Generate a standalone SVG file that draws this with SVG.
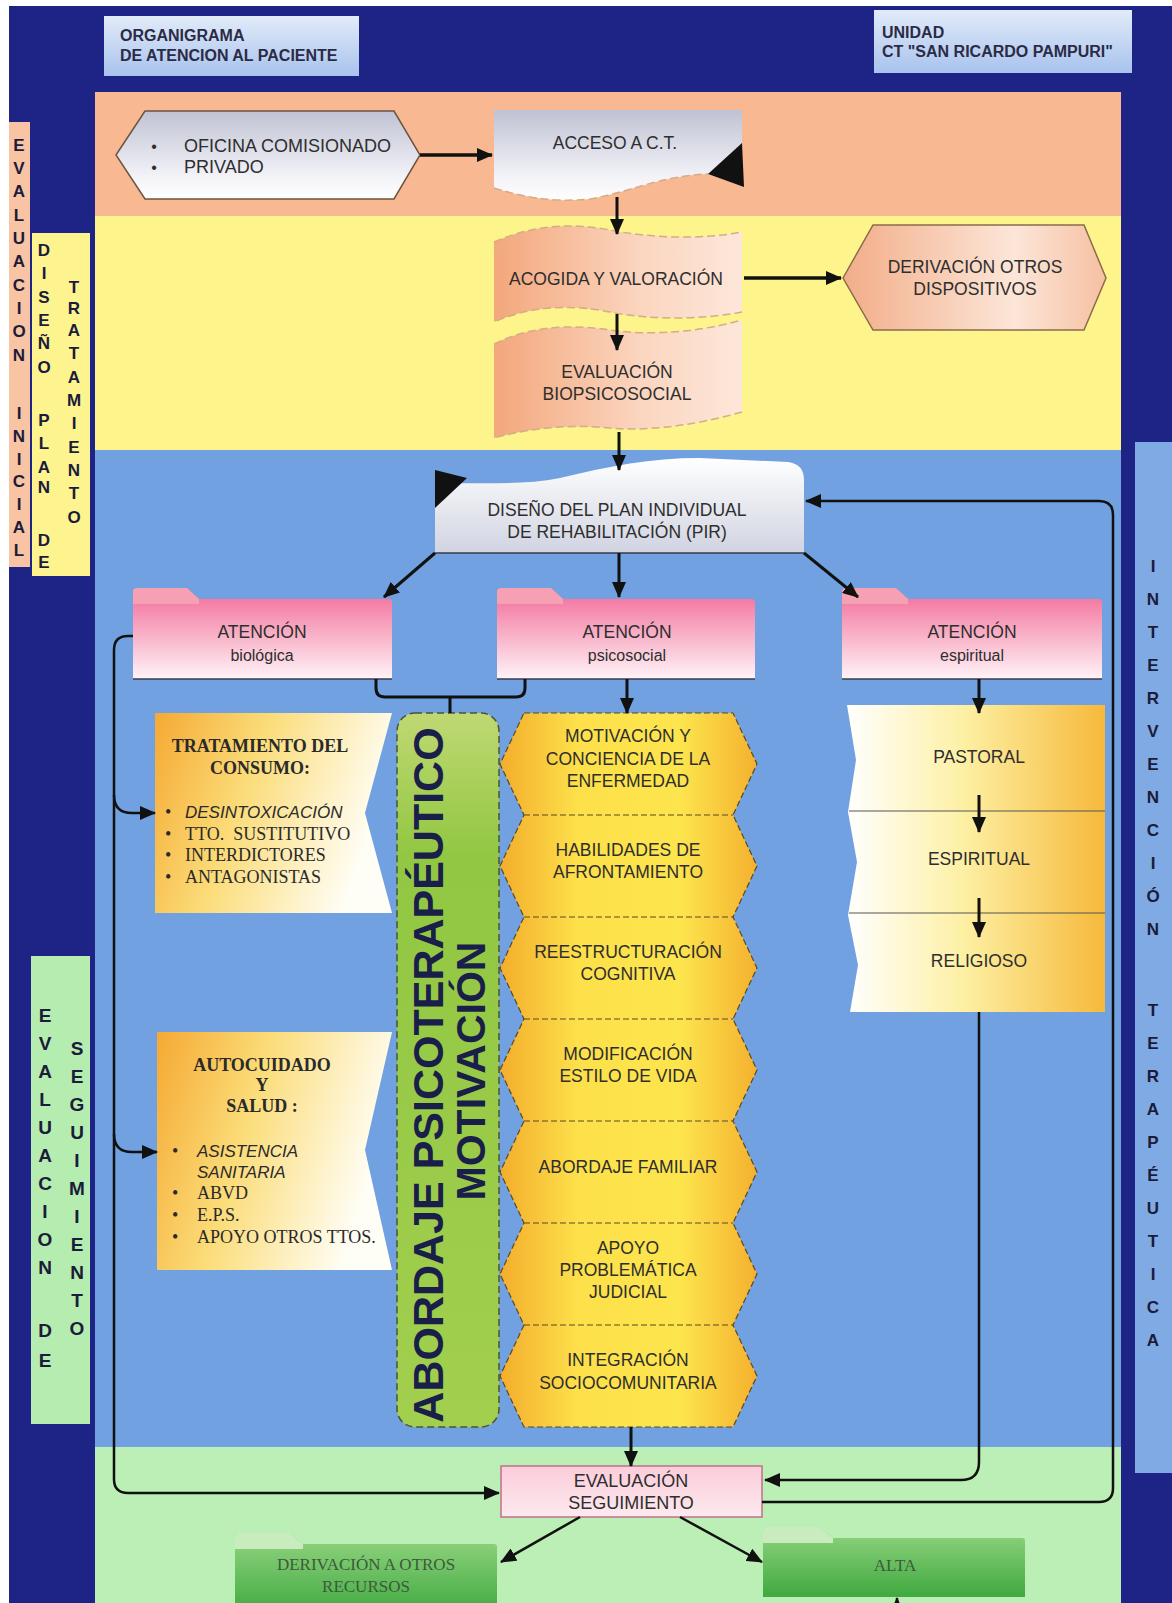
<svg xmlns="http://www.w3.org/2000/svg" width="1172" height="1603" viewBox="0 0 1172 1603">
<defs>
<linearGradient id="gTitle" x1="0" y1="0" x2="0" y2="1"><stop offset="0" stop-color="#e2ebf9"/><stop offset="1" stop-color="#a8c3ee"/></linearGradient>
<linearGradient id="gGray" x1="0" y1="0" x2="0" y2="1"><stop offset="0" stop-color="#bfc2d3"/><stop offset="0.75" stop-color="#f3f3f8"/><stop offset="1" stop-color="#ffffff"/></linearGradient>
<linearGradient id="gPeach" x1="0" y1="0" x2="1" y2="0"><stop offset="0" stop-color="#f3a77c"/><stop offset="0.6" stop-color="#fbd6c0"/><stop offset="1" stop-color="#fde7da"/></linearGradient>
<linearGradient id="gDeriv" x1="0" y1="0" x2="1" y2="0"><stop offset="0" stop-color="#f2ad88"/><stop offset="0.65" stop-color="#fce6d8"/><stop offset="1" stop-color="#f6c0a2"/></linearGradient>
<linearGradient id="gDis" x1="0" y1="0" x2="0" y2="1"><stop offset="0" stop-color="#ffffff"/><stop offset="1" stop-color="#d0d3e1"/></linearGradient>
<linearGradient id="gPink" x1="0" y1="0" x2="0" y2="1"><stop offset="0" stop-color="#f26a99"/><stop offset="0.5" stop-color="#f8afc6"/><stop offset="1" stop-color="#fff3f7"/></linearGradient>
<linearGradient id="gYel" x1="0" y1="0" x2="1" y2="0.3"><stop offset="0" stop-color="#f5a933"/><stop offset="0.45" stop-color="#fbdc78"/><stop offset="1" stop-color="#fffef6"/></linearGradient>
<linearGradient id="gPsi" x1="0" y1="0" x2="1" y2="0"><stop offset="0" stop-color="#f3ad2c"/><stop offset="0.3" stop-color="#fde04a"/><stop offset="0.7" stop-color="#fde54e"/><stop offset="1" stop-color="#f4b12e"/></linearGradient>
<linearGradient id="gEsp" x1="0" y1="0" x2="1" y2="0"><stop offset="0" stop-color="#ffffff"/><stop offset="0.45" stop-color="#fdf0a4"/><stop offset="1" stop-color="#f6b93b"/></linearGradient>
<linearGradient id="gPill" x1="0" y1="0" x2="0" y2="1"><stop offset="0" stop-color="#c0d873"/><stop offset="0.2" stop-color="#91c742"/><stop offset="1" stop-color="#a2cf4e"/></linearGradient>
<linearGradient id="gEval" x1="0" y1="0" x2="0" y2="1"><stop offset="0" stop-color="#fbcdda"/><stop offset="1" stop-color="#fde9ef"/></linearGradient>
<linearGradient id="gGreen" x1="0" y1="0" x2="0" y2="1"><stop offset="0" stop-color="#94d582"/><stop offset="1" stop-color="#3fa93f"/></linearGradient>
<marker id="ah" viewBox="0 0 16 14" markerWidth="16" markerHeight="14" refX="15" refY="7" orient="auto" markerUnits="userSpaceOnUse"><path d="M0,0 L16,7 L0,14 Z" fill="#111"/></marker>
<style>
.t{font-family:"Liberation Sans",Arial,sans-serif;font-size:17.5px;fill:#2e2e2e;text-anchor:middle}
.tl{text-anchor:start}
.ttl{font-family:"Liberation Sans",Arial,sans-serif;font-size:16px;font-weight:bold;fill:#2b2b45}
.vl{font-family:"Liberation Sans",Arial,sans-serif;font-size:17px;font-weight:bold;fill:#1b1b3a;text-anchor:middle}
.vb{font-size:19px}
.sf{font-family:"Liberation Serif","Times New Roman",serif;font-size:18px;fill:#2a2a2a}
.sfb{font-weight:bold}
.it{font-family:"Liberation Sans",Arial,sans-serif;font-size:17px;font-style:italic;fill:#2a2a2a}
.big{font-family:"Liberation Sans",Arial,sans-serif;font-size:43px;font-weight:bold;fill:#1a1f4a;text-anchor:middle}
.big2{font-size:41px}
.gt{font-family:"Liberation Serif","Times New Roman",serif;font-size:17px;fill:#3d5a3a;text-anchor:middle}
.dash{fill:none;stroke:#d2ad86;stroke-width:1.5;stroke-dasharray:8 4}
</style>
</defs>

<!-- background -->
<rect x="0" y="0" width="1172" height="1603" fill="#ffffff"/>
<rect x="9" y="6" width="1163" height="1597" fill="#1d2486"/>

<!-- bands -->
<rect x="95" y="92" width="1026" height="124" fill="#f8b891"/>
<rect x="95" y="216" width="1026" height="234" fill="#fdf58c"/>
<rect x="95" y="450" width="1026" height="997" fill="#71a1e0"/>
<rect x="95" y="1447" width="1026" height="156" fill="#bbefb5"/>

<!-- side label strips -->
<g id="lbl-eval-inicial">
<rect x="9" y="122" width="21" height="445" fill="#f8c4a4"/>
<text class="vl" x="19"><tspan x="19" y="151">E</tspan><tspan x="19" y="174">V</tspan><tspan x="19" y="197">A</tspan><tspan x="19" y="221">L</tspan><tspan x="19" y="244">U</tspan><tspan x="19" y="267">A</tspan><tspan x="19" y="291">C</tspan><tspan x="19" y="314">I</tspan><tspan x="19" y="337">O</tspan><tspan x="19" y="361">N</tspan><tspan x="19" y="419">I</tspan><tspan x="19" y="442">N</tspan><tspan x="19" y="465">I</tspan><tspan x="19" y="487">C</tspan><tspan x="19" y="510">I</tspan><tspan x="19" y="533">A</tspan><tspan x="19" y="556">L</tspan></text>
</g>
<g id="lbl-diseno">
<rect x="32" y="233" width="58" height="343" fill="#fdf490"/>
<text class="vl" x="44"><tspan x="44" y="256">D</tspan><tspan x="44" y="279">I</tspan><tspan x="44" y="303">S</tspan><tspan x="44" y="326">E</tspan><tspan x="44" y="349">Ñ</tspan><tspan x="44" y="373">O</tspan><tspan x="44" y="426">P</tspan><tspan x="44" y="449">L</tspan><tspan x="44" y="473">A</tspan><tspan x="44" y="493">N</tspan><tspan x="44" y="546">D</tspan><tspan x="44" y="568">E</tspan></text>
<text class="vl" x="74"><tspan x="74" y="293">T</tspan><tspan x="74" y="314">R</tspan><tspan x="74" y="336">A</tspan><tspan x="74" y="359">T</tspan><tspan x="74" y="383">A</tspan><tspan x="74" y="406">M</tspan><tspan x="74" y="429">I</tspan><tspan x="74" y="453">E</tspan><tspan x="74" y="476">N</tspan><tspan x="74" y="499">T</tspan><tspan x="74" y="523">O</tspan></text>
</g>
<g id="lbl-eval-seguimiento">
<rect x="31" y="956" width="59" height="468" fill="#b5ecb0"/>
<text class="vl vb" x="45"><tspan x="45" y="1022">E</tspan><tspan x="45" y="1050">V</tspan><tspan x="45" y="1078">A</tspan><tspan x="45" y="1106">L</tspan><tspan x="45" y="1134">U</tspan><tspan x="45" y="1162">A</tspan><tspan x="45" y="1190">C</tspan><tspan x="45" y="1218">I</tspan><tspan x="45" y="1246">O</tspan><tspan x="45" y="1274">N</tspan><tspan x="45" y="1337">D</tspan><tspan x="45" y="1367">E</tspan></text>
<text class="vl vb" x="77"><tspan x="77" y="1055">S</tspan><tspan x="77" y="1083">E</tspan><tspan x="77" y="1111">G</tspan><tspan x="77" y="1139">U</tspan><tspan x="77" y="1167">I</tspan><tspan x="77" y="1195">M</tspan><tspan x="77" y="1223">I</tspan><tspan x="77" y="1251">E</tspan><tspan x="77" y="1279">N</tspan><tspan x="77" y="1307">T</tspan><tspan x="77" y="1335">O</tspan></text>
</g>
<g id="lbl-intervencion">
<rect x="1135" y="442" width="37" height="1031" fill="#80aae4"/>
<text class="vl" x="1153"><tspan x="1153" y="572">I</tspan><tspan x="1153" y="605">N</tspan><tspan x="1153" y="638">T</tspan><tspan x="1153" y="671">E</tspan><tspan x="1153" y="704">R</tspan><tspan x="1153" y="737">V</tspan><tspan x="1153" y="770">E</tspan><tspan x="1153" y="803">N</tspan><tspan x="1153" y="836">C</tspan><tspan x="1153" y="869">I</tspan><tspan x="1153" y="902">Ó</tspan><tspan x="1153" y="935">N</tspan><tspan x="1153" y="1016">T</tspan><tspan x="1153" y="1049">E</tspan><tspan x="1153" y="1082">R</tspan><tspan x="1153" y="1115">A</tspan><tspan x="1153" y="1148">P</tspan><tspan x="1153" y="1181">É</tspan><tspan x="1153" y="1214">U</tspan><tspan x="1153" y="1247">T</tspan><tspan x="1153" y="1280">I</tspan><tspan x="1153" y="1313">C</tspan><tspan x="1153" y="1346">A</tspan></text>
</g>

<!-- title boxes -->
<g id="title-left">
<rect x="104" y="16" width="255" height="60" fill="url(#gTitle)"/>
<text class="ttl" x="120" y="41">ORGANIGRAMA</text>
<text class="ttl" x="120" y="61">DE ATENCION AL PACIENTE</text>
</g>
<g id="title-right">
<rect x="874" y="10" width="258" height="63" fill="url(#gTitle)"/>
<text class="ttl" x="882" y="38">UNIDAD</text>
<text class="ttl" x="882" y="57">CT "SAN RICARDO PAMPURI"</text>
</g>

<!-- nodes -->
<g id="n-oficina">
<polygon points="116,155 145,111 394,111 420,155 394,199 145,199" fill="url(#gGray)" stroke="#6b5440" stroke-width="1.5"/>
<text class="t" x="154" y="152" style="font-size:16px">•</text>
<text class="t" x="154" y="173" style="font-size:16px">•</text>
<text class="t tl" x="184" y="152" style="font-size:18px">OFICINA COMISIONADO</text>
<text class="t tl" x="184" y="173" style="font-size:18px">PRIVADO</text>
</g>

<g id="n-acceso">
<path d="M494,110 H742 V186 L708,174 C660,176 630,192 590,199 C550,203 520,196 494,188 Z" fill="url(#gGray)"/>
<path d="M494,188 C520,196 550,203 590,199 C630,192 660,176 708,174" class="dash" stroke="#c9b9a9"/>
<polygon points="708,174 742,143 744,187" fill="#111"/>
<text class="t" x="615" y="149">ACCESO A C.T.</text>
</g>

<g id="n-acogida">
<path d="M494,242 C530,226 570,222 610,230 C650,238 700,240 742,232 V312 C700,320 650,320 610,312 C570,304 530,306 494,322 Z" fill="url(#gPeach)"/>
<path d="M494,242 C530,226 570,222 610,230 C650,238 700,240 742,232" class="dash"/>
<path d="M742,312 C700,320 650,320 610,312 C570,304 530,306 494,322" class="dash"/>
<text class="t" x="616" y="285">ACOGIDA Y VALORACIÓN</text>
</g>

<g id="n-derivacion-otros">
<polygon points="843,278 873,225 1084,225 1106,278 1084,330 873,330" fill="url(#gDeriv)" stroke="#8b6b4b" stroke-width="1.5"/>
<text class="t" x="975" y="273">DERIVACIÓN OTROS</text>
<text class="t" x="975" y="295">DISPOSITIVOS</text>
</g>

<g id="n-eval-bio">
<path d="M494,344 C530,326 570,324 610,330 C650,336 700,332 742,320 V412 C700,424 650,432 610,428 C570,424 530,428 494,438 Z" fill="url(#gPeach)"/>
<path d="M494,344 C530,326 570,324 610,330 C650,336 700,332 742,320" class="dash"/>
<path d="M742,412 C700,424 650,432 610,428 C570,424 530,428 494,438" class="dash"/>
<text class="t" x="617" y="378">EVALUACIÓN</text>
<text class="t" x="617" y="400">BIOPSICOSOCIAL</text>
</g>

<g id="n-diseno">
<path d="M435,484 C480,482 520,486 560,478 C610,466 650,458 700,458 L788,462 Q804,464 804,480 V553 H435 Z" fill="url(#gDis)"/>
<line x1="435" y1="553" x2="804" y2="553" stroke="#3a3a4a" stroke-width="1.5"/>
<polygon points="435,470 467,478 435,508" fill="#111"/>
<text class="t" x="617" y="516">DISEÑO DEL PLAN INDIVIDUAL</text>
<text class="t" x="617" y="538">DE REHABILITACIÓN (PIR)</text>
</g>

<g id="n-biologica">
<path d="M133,679 V592 Q133,588 137,588 H187 L199,599 H389 Q392,599 392,602 V679 Z" fill="url(#gPink)"/>
<path d="M133,604 V592 Q133,588 137,588 H187 L199,599 V604 Z" fill="#f6a0b4"/>
<line x1="133" y1="679" x2="392" y2="679" stroke="#3a3a4a" stroke-width="1.5"/>
<text class="t" x="262" y="638">ATENCIÓN</text>
<text class="t" x="262" y="661" style="font-size:16px">biológica</text>
</g>

<g id="n-psicosocial">
<path d="M497,679 V592 Q497,588 501,588 H551 L563,599 H752 Q755,599 755,602 V679 Z" fill="url(#gPink)"/>
<path d="M497,604 V592 Q497,588 501,588 H551 L563,599 V604 Z" fill="#f6a0b4"/>
<line x1="497" y1="679" x2="755" y2="679" stroke="#3a3a4a" stroke-width="1.5"/>
<text class="t" x="627" y="638">ATENCIÓN</text>
<text class="t" x="627" y="661" style="font-size:16px">psicosocial</text>
</g>

<g id="n-espiritual">
<path d="M842,679 V592 Q842,588 846,588 H896 L908,599 H1099 Q1102,599 1102,602 V679 Z" fill="url(#gPink)"/>
<path d="M842,604 V592 Q842,588 846,588 H896 L908,599 V604 Z" fill="#f6a0b4"/>
<line x1="842" y1="679" x2="1102" y2="679" stroke="#3a3a4a" stroke-width="1.5"/>
<text class="t" x="972" y="638">ATENCIÓN</text>
<text class="t" x="972" y="661" style="font-size:16px">espiritual</text>
</g>

<g id="n-tratamiento">
<polygon points="155,713 392,713 365,813 392,913 155,913" fill="url(#gYel)"/>
<text class="sf sfb" x="260" y="752" text-anchor="middle">TRATAMIENTO DEL</text>
<text class="sf sfb" x="260" y="774" text-anchor="middle">CONSUMO:</text>
<text class="sf" x="165" y="818">•</text>
<text class="sf" x="165" y="840">•</text>
<text class="sf" x="165" y="861">•</text>
<text class="sf" x="165" y="883">•</text>
<text class="it" x="185" y="818">DESINTOXICACIÓN</text>
<text class="sf" x="185" y="840" xml:space="preserve">TTO.  SUSTITUTIVO</text>
<text class="sf" x="185" y="861">INTERDICTORES</text>
<text class="sf" x="185" y="883">ANTAGONISTAS</text>
</g>

<g id="n-autocuidado">
<polygon points="157,1032 392,1032 365,1150 392,1270 157,1270" fill="url(#gYel)"/>
<text class="sf sfb" x="262" y="1071" text-anchor="middle">AUTOCUIDADO</text>
<text class="sf sfb" x="262" y="1091" text-anchor="middle">Y</text>
<text class="sf sfb" x="262" y="1112" text-anchor="middle">SALUD :</text>
<text class="sf" x="172" y="1157">•</text>
<text class="sf" x="172" y="1199">•</text>
<text class="sf" x="172" y="1221">•</text>
<text class="sf" x="172" y="1243">•</text>
<text class="it" x="197" y="1157">ASISTENCIA</text>
<text class="it" x="197" y="1178">SANITARIA</text>
<text class="sf" x="197" y="1199">ABVD</text>
<text class="sf" x="197" y="1221">E.P.S.</text>
<text class="sf" x="197" y="1243">APOYO OTROS TTOS.</text>
</g>

<g id="n-abordaje">
<rect x="397" y="713" width="102" height="714" rx="18" fill="url(#gPill)" stroke="#4a5530" stroke-width="1.5" stroke-dasharray="7 4"/>
<text class="big" transform="translate(443,1075) rotate(-90)">ABORDAJE PSICOTERAPÉUTICO</text>
<text class="big big2" transform="translate(485,1071) rotate(-90)">MOTIVACIÓN</text>
</g>

<g id="n-psicosocial-col">
<path d="M524,713 H733 L757,764 L733,815 L757,866 L733,917 L757,968 L733,1019 L757,1070 L733,1121 L757,1172 L733,1223 L757,1274 L733,1325 L757,1376 L733,1427 H524 L500,1376 L524,1325 L500,1274 L524,1223 L500,1172 L524,1121 L500,1070 L524,1019 L500,968 L524,917 L500,866 L524,815 L500,764 Z" fill="url(#gPsi)" stroke="#5a4a20" stroke-width="1.2" stroke-dasharray="6 3"/>
<path d="M524,815 H733 M524,917 H733 M524,1019 H733 M524,1121 H733 M524,1223 H733 M524,1325 H733" stroke="#5a4a20" stroke-width="1.2" stroke-dasharray="6 3"/>
<text class="t" x="628" y="742">MOTIVACIÓN Y</text>
<text class="t" x="628" y="765">CONCIENCIA DE LA</text>
<text class="t" x="628" y="787">ENFERMEDAD</text>
<text class="t" x="628" y="856">HABILIDADES DE</text>
<text class="t" x="628" y="878">AFRONTAMIENTO</text>
<text class="t" x="628" y="958">REESTRUCTURACIÓN</text>
<text class="t" x="628" y="980">COGNITIVA</text>
<text class="t" x="628" y="1060">MODIFICACIÓN</text>
<text class="t" x="628" y="1082">ESTILO DE VIDA</text>
<text class="t" x="628" y="1173">ABORDAJE FAMILIAR</text>
<text class="t" x="628" y="1254">APOYO</text>
<text class="t" x="628" y="1276">PROBLEMÁTICA</text>
<text class="t" x="628" y="1298">JUDICIAL</text>
<text class="t" x="628" y="1366">INTEGRACIÓN</text>
<text class="t" x="628" y="1389">SOCIOCOMUNITARIA</text>
</g>

<g id="n-espiritual-col">
<polygon points="847,705 1105,705 1105,1012 850,1012 858,965 848,915 857,862 848,812 856,760" fill="url(#gEsp)"/>
<path d="M849,811 H1105 M849,913 H1105" stroke="#555" stroke-width="1.2"/>
<text class="t" x="979" y="763">PASTORAL</text>
<text class="t" x="979" y="865">ESPIRITUAL</text>
<text class="t" x="979" y="967">RELIGIOSO</text>
</g>

<g id="n-eval-seguimiento">
<rect x="501" y="1466" width="261" height="51" fill="url(#gEval)" stroke="#c0708a" stroke-width="1.5"/>
<text class="t" x="631" y="1487" style="font-size:18px">EVALUACIÓN</text>
<text class="t" x="631" y="1509" style="font-size:18px">SEGUIMIENTO</text>
</g>

<g id="n-derivacion-recursos">
<path d="M235,1615 V1537 Q235,1533 239,1533 H290 L303,1544 H494 Q497,1544 497,1547 V1615 Z" fill="url(#gGreen)"/>
<path d="M235,1549 V1537 Q235,1533 239,1533 H290 L303,1544 V1549 Z" fill="#c9ecbf"/>
<text class="gt" x="366" y="1570">DERIVACIÓN A OTROS</text>
<text class="gt" x="366" y="1592">RECURSOS</text>
</g>

<g id="n-alta">
<path d="M763,1597 V1531 Q763,1527 767,1527 H820 L833,1538 H1022 Q1025,1538 1025,1541 V1597 Z" fill="url(#gGreen)"/>
<path d="M763,1543 V1531 Q763,1527 767,1527 H820 L833,1538 V1543 Z" fill="#c9ecbf"/>
<text class="gt" x="895" y="1571">ALTA</text>
</g>

<!-- connectors -->
<g id="connectors" fill="none" stroke="#111" stroke-width="3">
<path d="M420,155 H492" stroke-width="3.5" marker-end="url(#ah)"/>
<path d="M617,197 V234" marker-end="url(#ah)"/>
<path d="M744,278 H841" stroke-width="3.5" marker-end="url(#ah)"/>
<path d="M617,314 V350" marker-end="url(#ah)"/>
<path d="M619,432 V470" marker-end="url(#ah)"/>
<path d="M435,553 L384,597" marker-end="url(#ah)"/>
<path d="M619,553 V597" marker-end="url(#ah)"/>
<path d="M804,553 L858,597" marker-end="url(#ah)"/>
<path d="M376,679 V688 Q376,697 385,697 H516 Q525,697 525,688 V679 M450,697 V713"/>
<path d="M627,679 V713" marker-end="url(#ah)"/>
<path d="M979,679 V713" marker-end="url(#ah)"/>
<path d="M979,795 V832" marker-end="url(#ah)"/>
<path d="M979,898 V937" marker-end="url(#ah)"/>
<path d="M979,1012 V1462 Q979,1480 961,1480 H765" stroke-width="2.5" marker-end="url(#ah)"/>
<path d="M631,1427 V1466" marker-end="url(#ah)"/>
<path d="M133,636 H128 Q114,636 114,650 V1479 Q114,1493 128,1493 H499" stroke-width="2.5" marker-end="url(#ah)"/>
<path d="M114,795 Q114,813 132,813 H155" stroke-width="2.5" marker-end="url(#ah)"/>
<path d="M114,1134 Q114,1152 132,1152 H157" stroke-width="2.5" marker-end="url(#ah)"/>
<path d="M762,1502 H1099 Q1113,1502 1113,1488 V515 Q1113,501 1099,501 H806" stroke-width="2.5" marker-end="url(#ah)"/>
<path d="M580,1517 L501,1562" stroke-width="2.5" marker-end="url(#ah)"/>
<path d="M680,1517 L762,1562" stroke-width="2.5" marker-end="url(#ah)"/>
<path d="M897,1615 V1598" stroke-width="2.5" marker-end="url(#ah)"/>
</g>
</svg>
